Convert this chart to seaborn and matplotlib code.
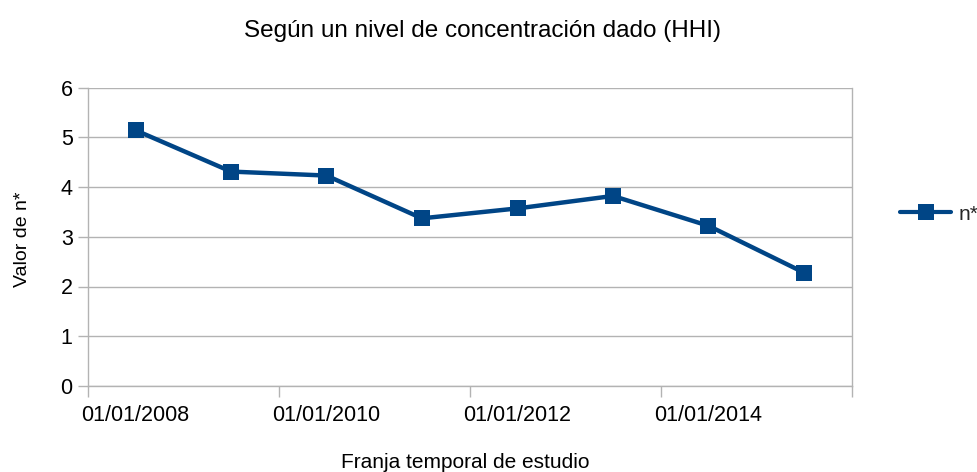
import matplotlib
matplotlib.use("Agg")
import matplotlib.pyplot as plt
import matplotlib.dates as mdates
import seaborn as sns
import pandas as pd
import datetime as dt

# Data
fechas = ["2008-07-01", "2009-07-01", "2010-07-01", "2011-07-01",
          "2012-07-01", "2013-07-01", "2014-07-01", "2015-07-01"]
valores = [5.14, 4.31, 4.23, 3.37, 3.57, 3.82, 3.22, 2.28]
serie = "n*"
titulo = "Según un nivel de concentración dado (HHI)"
xlabel = "Franja temporal de estudio"
ylabel = "Valor de n*"
etiquetas_x = ["01/01/2008", "01/01/2010", "01/01/2012", "01/01/2014"]

df = pd.DataFrame({"fecha": pd.to_datetime(fechas), "valor": valores, "serie": serie})

sns.set_theme(style="white")
plt.rcParams['font.family'] = ['Liberation Sans', 'DejaVu Sans']

color = "#004586"
grey = "#b3b3b3"

fig = plt.figure(figsize=(9.77, 4.72), dpi=100)
ax = fig.add_axes([88/977, 1-386/472, (852-88)/977, (386-87.5)/472])

sns.lineplot(data=df, x="fecha", y="valor", hue="serie", palette=[color],
             marker="s", markersize=12, markeredgewidth=0, linewidth=3.2,
             ax=ax, legend=False)

ax.set_xlim(dt.datetime(2008, 1, 1), dt.datetime(2016, 1, 1))
ax.set_ylim(0, 6)
ax.set_yticks(range(0, 7))
ax.yaxis.grid(True, color=grey, linewidth=1)
ax.xaxis.grid(False)

# tick marks at year boundaries, labels at mid-year
major = [dt.datetime(y, 1, 1) for y in (2008, 2010, 2012, 2014, 2016)]
minor = [dt.datetime(y, 7, 1) for y in (2008, 2010, 2012, 2014)]
ax.set_xticks(major)
ax.set_xticklabels([""] * len(major))
ax.set_xticks(minor, minor=True)
ax.set_xticklabels(etiquetas_x, minor=True)
ax.tick_params(axis="x", which="major", length=8, width=1, color=grey, direction="out", bottom=True)
ax.tick_params(axis="x", which="minor", length=0, pad=14, labelsize=15.5, labelcolor="black")
ax.tick_params(axis="y", length=7, width=1, color=grey, direction="out", left=True, pad=4,
               labelsize=15.5, labelcolor="black")

for s in ["left", "right", "bottom"]:
    ax.spines[s].set_color(grey)
    ax.spines[s].set_linewidth(1)
ax.spines["top"].set_visible(False)

ax.set_xlabel(xlabel, fontsize=15, color="black")
ax.set_ylabel(ylabel, fontsize=14, color="black")
ax.xaxis.set_label_coords((465-88)/764, -0.225)
ax.xaxis.label.set_va("top")
ax.yaxis.set_label_coords((31-88)/764, 0.49)

fig.text(483/977, 1-37/472, titulo, ha="center", va="baseline", fontsize=17.5, color="black")

from matplotlib.lines import Line2D
h = Line2D([], [], color=color, linewidth=3, marker="s", markersize=11, markeredgewidth=0)
fig.legend([h], [serie], loc="center left", bbox_to_anchor=(900/977, 1-214/472),
           frameon=False, fontsize=15, handlelength=2.45, handletextpad=0.35,
           borderpad=0, borderaxespad=0)

fig.savefig("out.png", dpi=100)
